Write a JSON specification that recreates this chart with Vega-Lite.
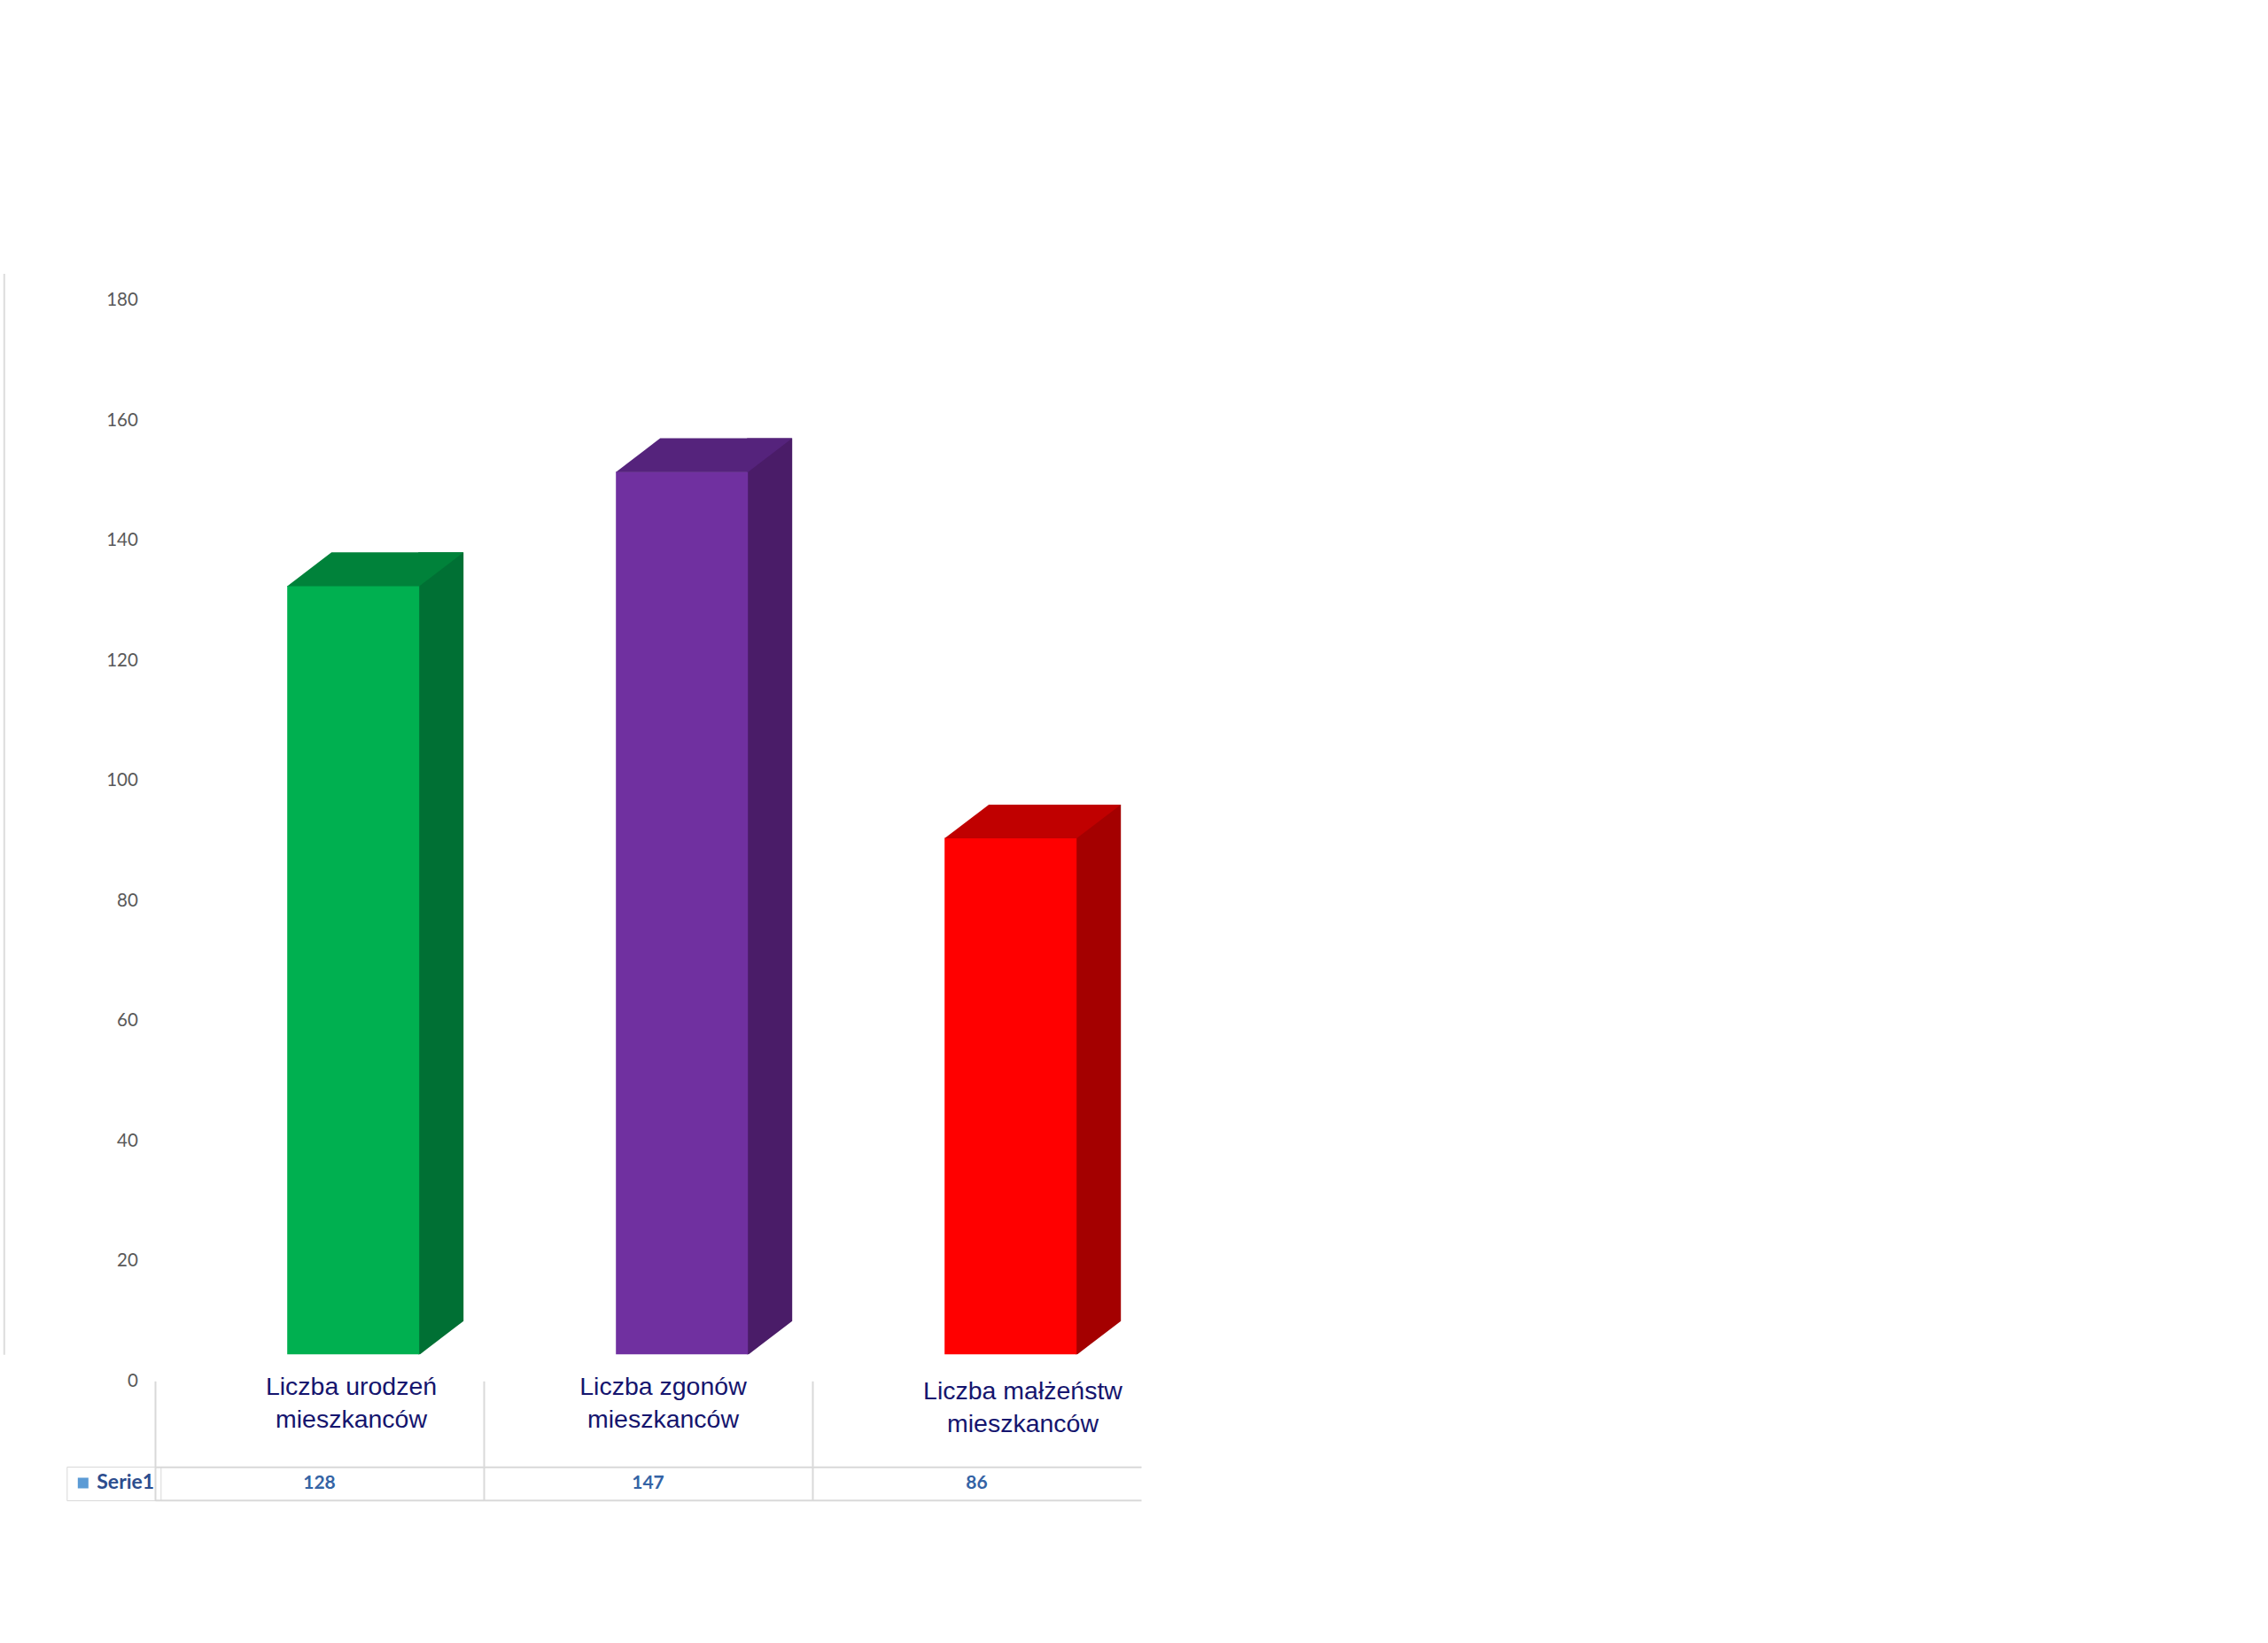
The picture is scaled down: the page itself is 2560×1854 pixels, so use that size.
{
  "$schema": "https://vega.github.io/schema/vega-lite/v6.json",
  "background": "white",
  "padding": {"left": 4, "top": 308.6, "right": 20, "bottom": 20},
  "bounds": "flush",
  "spacing": 126.7,
  "datasets": {
    "stat": [
      {"kategoria": "Liczba urodzeń mieszkanców", "liczba": 128, "seria": "Serie1"},
      {"kategoria": "Liczba zgonów mieszkanców", "liczba": 147, "seria": "Serie1"},
      {"kategoria": "Liczba małżeństw mieszkanców", "liczba": 86, "seria": "Serie1"}
    ]
  },
  "config": {"view": {"stroke": null}, "font": "Lato"},
  "vconcat": [
    {
      "width": 1113,
      "height": 1219.7,
      "data": {"name": "stat"},
      "encoding": {
        "x": {
          "field": "kategoria", "type": "nominal", "sort": null,
          "scale": {"paddingInner": 0, "paddingOuter": 0},
          "axis": null
        },
        "y": {
          "field": "liczba", "type": "quantitative",
          "scale": {"domain": [0, 180], "nice": false},
          "axis": {
            "title": null,
            "values": [0, 20, 40, 60, 80, 100, 120, 140, 160, 180],
            "ticks": false, "tickSize": 0, "grid": false,
            "domain": true, "domainColor": "#dcdcdc", "domainWidth": 2,
            "offset": 170.7,
            "labelPadding": -151,
            "labelOffset": 30,
            "labelAlign": "right",
            "labelFont": "Lato", "labelFontSize": 20.5, "labelColor": "#595959"
          }
        }
      },
      "layer": [
        {
          "mark": {"type": "bar", "width": 51, "xOffset": 137.2, "yOffset": -37.6},
          "encoding": {
            "y2": {"datum": 0},
            "color": {
              "field": "kategoria", "type": "nominal", "legend": null,
              "scale": {
                "domain": ["Liczba urodzeń mieszkanców", "Liczba zgonów mieszkanców", "Liczba małżeństw mieszkanców"],
                "range": ["#007034", "#4a1c68", "#a40000"]
              }
            }
          }
        },
        {
          "mark": {"type": "bar", "width": 149, "xOffset": 38.2},
          "encoding": {
            "y2": {"datum": 0},
            "color": {
              "field": "kategoria", "type": "nominal", "legend": null,
              "scale": {
                "domain": ["Liczba urodzeń mieszkanców", "Liczba zgonów mieszkanców", "Liczba małżeństw mieszkanców"],
                "range": ["#00b050", "#7030a0", "#ff0000"]
              }
            }
          }
        },
        {
          "mark": {
            "type": "point", "filled": true, "opacity": 1, "size": 4, "strokeWidth": 0,
            "xOffset": 38.2,
            "shape": "M-74.5,0.5L-24.5,-37.6L124.5,-37.6L74.5,0.5Z"
          },
          "encoding": {
            "color": {
              "field": "kategoria", "type": "nominal", "legend": null,
              "scale": {
                "domain": ["Liczba urodzeń mieszkanców", "Liczba zgonów mieszkanców", "Liczba małżeństw mieszkanców"],
                "range": ["#00823a", "#55237c", "#c00000"]
              }
            }
          }
        },
        {
          "mark": {
            "type": "point", "filled": true, "opacity": 1, "size": 4, "strokeWidth": 0,
            "color": "white", "xOffset": 38.2,
            "shape": "M74.5,0.6L124.5,-37.6L126,-37.6L126,2L74.5,2Z"
          },
          "encoding": {"y": {"datum": 0}}
        }
      ],
      "resolve": {"scale": {"color": "independent"}}
    },
    {
      "width": 1113,
      "height": 37.5,
      "data": {"name": "stat"},
      "encoding": {
        "y": {
          "field": "seria", "type": "nominal", "axis": null,
          "scale": {"paddingInner": 0, "paddingOuter": 0}
        }
      },
      "layer": [
        {
          "mark": {
            "type": "text", "font": "Lato", "fontWeight": "bold", "fontSize": 21,
            "color": "#3463a5", "baseline": "middle", "align": "center"
          },
          "encoding": {
            "x": {
              "field": "kategoria", "type": "nominal", "sort": null,
              "scale": {"paddingInner": 0, "paddingOuter": 0},
              "axis": {
                "orient": "top", "title": null, "tickOffset": -185.5,
                "domain": true, "domainColor": "#d9d9d9", "domainWidth": 2,
                "ticks": true, "tickSize": 97, "tickColor": "#d9d9d9", "tickWidth": 2,
                "grid": true, "gridColor": "#d9d9d9", "gridWidth": 2,
                "labelAngle": 0, "labelBaseline": "top",
                "labelPadding": {
                  "condition": {"test": "datum.value === 'Liczba małżeństw mieszkanców'", "value": 3},
                  "value": 8
                },
                "labelLineHeight": 37, "labelLimit": 400, "labelOverlap": false,
                "labelFont": "Liberation Sans", "labelFontSize": 28.5, "labelColor": "#15156e",
                "labelExpr": "split(replace(datum.label, ' mieszkanców', '|mieszkanców'), '|')",
                "labelOffset": {
                  "condition": [
                    {"test": "datum.value === 'Liczba zgonów mieszkanców'", "value": 202},
                    {"test": "datum.value === 'Liczba małżeństw mieszkanców'", "value": 237}
                  ],
                  "value": 221
                }
              }
            },
            "text": {"field": "liczba", "type": "quantitative"}
          }
        },
        {
          "mark": {"type": "point", "shape": "square", "filled": true, "size": 0, "opacity": 1},
          "encoding": {
            "x": {
              "field": "kategoria", "type": "nominal", "sort": null,
              "scale": {"paddingInner": 0, "paddingOuter": 0},
              "axis": {
                "orient": "bottom", "title": null, "labels": false, "ticks": false, "grid": false,
                "domain": true, "domainColor": "#d9d9d9", "domainWidth": 2
              }
            },
            "color": {
              "field": "seria", "type": "nominal",
              "scale": {"range": ["#5b9bd5"]},
              "legend": {
                "orient": "none", "legendX": -99.7, "legendY": 1346.4,
                "title": null, "symbolType": "square", "symbolSize": 144,
                "symbolStrokeWidth": 0, "symbolOpacity": 1,
                "labelFont": "Lato", "labelFontWeight": "bold", "labelFontSize": 23,
                "labelColor": "#2c4d8e", "labelOffset": 4, "labelLimit": 200,
                "padding": 7, "strokeColor": "#d9d9d9"
              }
            }
          }
        }
      ],
      "resolve": {"axis": {"x": "independent"}}
    }
  ]
}
